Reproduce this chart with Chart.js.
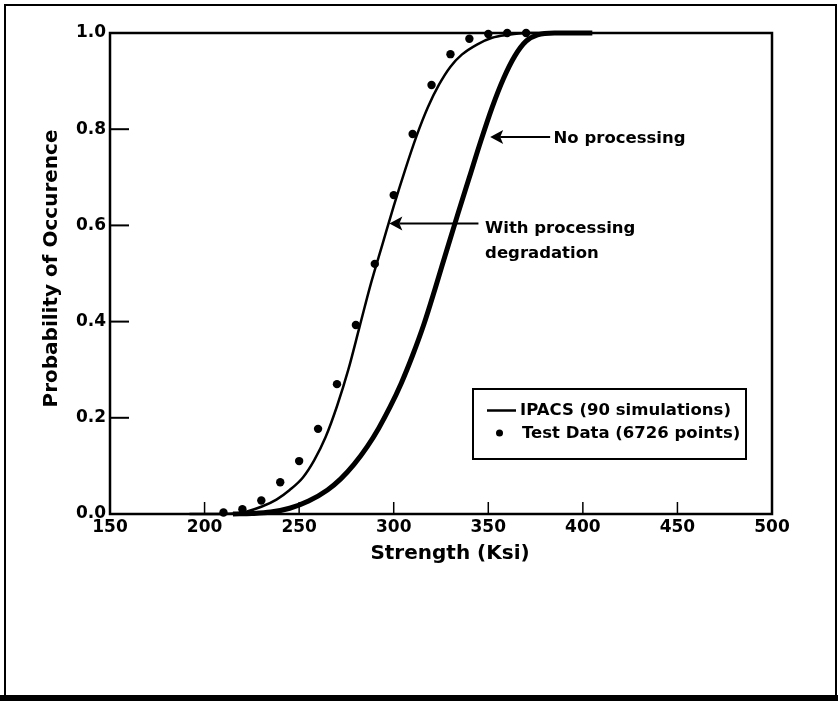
<!DOCTYPE html>
<html><head><meta charset="utf-8">
<script src="https://cdn.jsdelivr.net/npm/chart.js@4.4.1/dist/chart.umd.min.js"></script>
<style>html,body{margin:0;padding:0;background:#fff}canvas{display:block}</style>
</head><body>
<canvas id="c" width="838" height="702"></canvas>
<script>
// ---- data ----
const withProcX = [192, 205, 215, 222, 230, 238, 245, 252, 258, 264, 270, 276, 282, 288, 294, 300, 306, 312, 318, 324, 330, 336, 344, 352, 360, 370, 400];
const withProcY = [0, 0, 0.001, 0.005, 0.015, 0.03, 0.05, 0.076, 0.112, 0.16, 0.224, 0.3, 0.39, 0.48, 0.56, 0.64, 0.715, 0.785, 0.845, 0.893, 0.93, 0.955, 0.976, 0.99, 0.996, 1.0, 1.0];
const noProcX = [215, 225, 235, 245, 255, 265, 272, 279, 286, 292, 298, 304, 310, 316, 322, 328, 334, 340, 346, 352, 358, 364, 370, 376, 385, 405];
const noProcY = [0, 0.001, 0.004, 0.012, 0.027, 0.05, 0.073, 0.103, 0.14, 0.178, 0.222, 0.272, 0.33, 0.395, 0.47, 0.548, 0.625, 0.7, 0.775, 0.845, 0.905, 0.952, 0.983, 0.996, 1.0, 1.0];
const testX = [210, 220, 230, 240, 250, 260, 270, 280, 290, 300, 310, 320, 330, 340, 350, 360, 370];
const testY = [0.003, 0.01, 0.028, 0.066, 0.11, 0.177, 0.27, 0.393, 0.52, 0.663, 0.79, 0.892, 0.956, 0.988, 0.998, 1.0, 1.0];
const xTicks = [150, 200, 250, 300, 350, 400, 450, 500];
const yTicks = [0, 0.2, 0.4, 0.6, 0.8, 1.0];
const xTitle = 'Strength (Ksi)';
const yTitle = 'Probability of Occurence';
const legendLabels = ['IPACS (90 simulations)', 'Test Data (6726 points)'];
const noteTexts = [['No processing'], ['With processing', 'degradation']];

// annotation anchors in data units
const notes = [
  { lines: noteTexts[0], tip: [351, 0.784], tail: [382.7, 0.784], text: [384.5, 0.78], gap: 25 },
  { lines: noteTexts[1], tip: [297.7, 0.604], tail: [344.8, 0.604], text: [348.3, 0.594], gap: 25 }
];

const FONT = "'DejaVu Sans', sans-serif";
const toPts = (xs, ys) => xs.map((x, i) => ({ x, y: ys[i] }));

const decor = {
  id: 'decor',
  beforeDraw(chart) {
    const ctx = chart.ctx;
    ctx.save();
    ctx.fillStyle = '#fff';
    ctx.fillRect(0, 0, chart.width, chart.height);
    ctx.restore();
  },
  afterDraw(chart) {
    const { ctx, chartArea: a, scales: { x, y } } = chart;
    ctx.save();
    ctx.strokeStyle = '#000';
    ctx.fillStyle = '#000';
    // outer frame
    ctx.lineWidth = 2;
    ctx.strokeRect(5, 5, 831, 692);
    ctx.fillRect(0, 695, chart.width, 6);
    // plot box
    ctx.lineWidth = 2.5;
    ctx.strokeRect(a.left, a.top, a.right - a.left, a.bottom - a.top);
    // inward ticks
    ctx.lineWidth = 2;
    yTicks.slice(1, -1).forEach(v => {
      const py = y.getPixelForValue(v);
      ctx.beginPath(); ctx.moveTo(a.left, py); ctx.lineTo(a.left + 19, py); ctx.stroke();
    });
    ctx.lineWidth = 1.5;
    xTicks.slice(1, -1).forEach(v => {
      const px = x.getPixelForValue(v);
      ctx.beginPath(); ctx.moveTo(px, a.bottom); ctx.lineTo(px, a.bottom - 12); ctx.stroke();
    });
    // axis titles
    ctx.font = `bold 20px ${FONT}`;
    ctx.textAlign = 'center';
    ctx.textBaseline = 'middle';
    ctx.fillText(xTitle, (a.left + a.right) / 2 + 9, a.bottom + 40);
    ctx.save();
    ctx.translate(52, (a.top + a.bottom) / 2 - 5);
    ctx.rotate(-Math.PI / 2);
    ctx.fillText(yTitle, 0, 0);
    ctx.restore();
    // annotations with arrows
    notes.forEach(n => {
      const tx = x.getPixelForValue(n.tip[0]), ty = y.getPixelForValue(n.tip[1]);
      const ex = x.getPixelForValue(n.tail[0]);
      ctx.lineWidth = 2;
      ctx.beginPath(); ctx.moveTo(tx + 10, ty); ctx.lineTo(ex, ty); ctx.stroke();
      ctx.beginPath();
      ctx.moveTo(tx, ty); ctx.lineTo(tx + 13, ty - 7); ctx.lineTo(tx + 10, ty); ctx.lineTo(tx + 13, ty + 7);
      ctx.closePath(); ctx.fill();
      ctx.font = `bold 16.5px ${FONT}`;
      ctx.textAlign = 'left';
      const lx = x.getPixelForValue(n.text[0]);
      const ly = y.getPixelForValue(n.text[1]);
      n.lines.forEach((t, i) => ctx.fillText(t, lx, ly + i * n.gap));
    });
    // legend box
    const bx = a.left + 363, by = a.top + 356, bw = 273, bh = 70;
    ctx.lineWidth = 2;
    ctx.strokeRect(bx, by, bw, bh);
    ctx.lineWidth = 2.5;
    ctx.beginPath(); ctx.moveTo(bx + 14, by + 21.5); ctx.lineTo(bx + 43, by + 21.5); ctx.stroke();
    ctx.beginPath(); ctx.arc(bx + 26.5, by + 44, 3.5, 0, Math.PI * 2); ctx.fill();
    ctx.font = `bold 16.5px ${FONT}`;
    ctx.textAlign = 'left';
    ctx.fillText(legendLabels[0], bx + 47, by + 21.5);
    ctx.fillText(legendLabels[1], bx + 49, by + 44.5);
    ctx.restore();
  }
};

new Chart(document.getElementById('c'), {
  type: 'scatter',
  data: {
    datasets: [
      { label: legendLabels[0], data: toPts(withProcX, withProcY), showLine: true, borderColor: '#000', borderWidth: 2.5, pointRadius: 0, cubicInterpolationMode: 'monotone', clip: false },
      { label: legendLabels[0] + ' (no processing)', data: toPts(noProcX, noProcY), showLine: true, borderColor: '#000', borderWidth: 5, pointRadius: 0, cubicInterpolationMode: 'monotone', clip: false },
      { label: legendLabels[1], data: toPts(testX, testY), showLine: false, pointRadius: 4.2, pointBackgroundColor: '#000', pointBorderWidth: 0, backgroundColor: '#000', clip: false }
    ]
  },
  options: {
    responsive: false,
    animation: false,
    devicePixelRatio: 1,
    layout: { padding: { left: 0, right: 66, top: 33, bottom: 0 } },
    plugins: { legend: { display: false }, tooltip: { enabled: false } },
    scales: {
      x: {
        type: 'linear', min: 150, max: 500,
        grid: { display: false, drawTicks: false },
        border: { display: false },
        afterBuildTicks: s => { s.ticks = xTicks.map(v => ({ value: v })); },
        afterFit: s => { s.height = 188; },
        ticks: { color: '#000', padding: 3, maxRotation: 0, autoSkip: false, font: { family: FONT, weight: 'bold', size: 17 } }
      },
      y: {
        type: 'linear', min: 0, max: 1,
        grid: { display: false, drawTicks: false },
        border: { display: false },
        afterBuildTicks: s => { s.ticks = yTicks.map(v => ({ value: v })); },
        afterFit: s => { s.width = 110; },
        ticks: { color: '#000', padding: 4, autoSkip: false, callback: v => Number(v).toFixed(1), font: { family: FONT, weight: 'bold', size: 17 } }
      }
    }
  },
  plugins: [decor]
});
</script>
</body></html>
